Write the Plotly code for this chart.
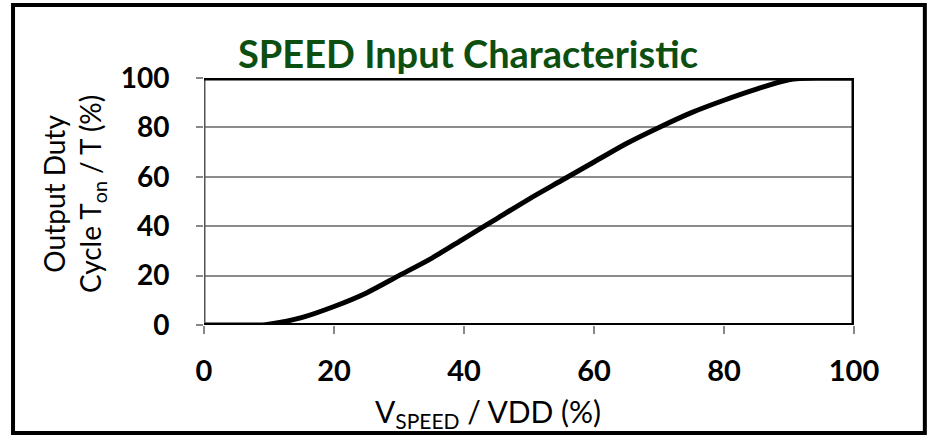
import plotly.graph_objects as go

# Data
v_speed = [0, 5, 9, 10, 15, 20, 25, 30, 35, 40, 45, 50, 55, 60, 65, 70, 75, 80, 85, 90, 95, 100]
duty = [0, 0, 0, 0.3, 3, 7.5, 13, 20, 27, 35, 43, 51, 58.5, 66, 73.5, 80, 86, 91, 95.5, 99.3, 100, 100]
x_ticks = [0, 20, 40, 60, 80, 100]
y_ticks = [0, 20, 40, 60, 80, 100]

fig = go.Figure()
fig.add_trace(go.Scatter(x=v_speed, y=duty, mode="lines",
                         line=dict(color="black", width=5, shape="spline", smoothing=0.8),
                         showlegend=False, hoverinfo="skip"))

fig.update_layout(
    width=930, height=437,
    margin=dict(l=204, r=76, t=78, b=112),
    paper_bgcolor="white", plot_bgcolor="white",
    font=dict(family="Lato, 'Open Sans', sans-serif", color="black"),
    xaxis=dict(range=[0, 100], tickvals=x_ticks, ticks="outside", ticklen=8, tickwidth=2, tickcolor="#888",
               showgrid=False, zeroline=False, showline=False,
               tickfont=dict(size=29, family="Lato", color="black", weight="bold"), ticklabelstandoff=12),
    yaxis=dict(range=[0, 100], tickvals=y_ticks, ticks="outside", ticklen=7, tickwidth=2, tickcolor="#888",
               showgrid=True, gridcolor="#8c8c8c", gridwidth=2, zeroline=False, showline=False,
               tickfont=dict(size=28, family="Lato", color="black", weight="bold"), ticklabelstandoff=21),
    shapes=[
        dict(type="line", xref="x", yref="y", x0=0, x1=0, y0=0, y1=100, line=dict(color="#555", width=3), layer="above"),
        dict(type="line", xref="x", yref="y", x0=0, x1=100, y0=100, y1=100, line=dict(color="black", width=5), layer="above"),
        dict(type="line", xref="x", yref="y", x0=100, x1=100, y0=0, y1=100, line=dict(color="black", width=5), layer="above"),
        dict(type="line", xref="x", yref="y", x0=0, x1=100, y0=0, y1=0, line=dict(color="black", width=4), layer="above"),
        dict(type="rect", xref="paper", yref="paper", x0=-0.2938, x1=1.109, y0=-0.437, y1=1.2955,
             line=dict(color="black", width=4)),
    ],
    annotations=[
        dict(text="<b>SPEED Input Characteristic</b>", xref="paper", yref="paper", x=0.406, y=1.101,
             xanchor="center", yanchor="middle", showarrow=False,
             font=dict(size=38, color="#0c4f10", family="Lato")),
        dict(text="V<sub>SPEED</sub> / VDD (%)", xref="paper", yref="paper", x=0.437, y=-0.356,
             xanchor="center", yanchor="middle", showarrow=False,
             font=dict(size=30, color="black", family="Lato")),
        dict(text="Output Duty<br>Cycle T<sub>on</sub> / T (%)", xref="paper", yref="paper", x=-0.2, y=0.53,
             xanchor="center", yanchor="middle", textangle=-90, showarrow=False,
             font=dict(size=28, color="black", family="Lato")),
    ],
)

fig.write_html("out.html", config={"displayModeBar": False},
               post_script="document.body.style.margin='0';document.body.style.overflow='hidden';")
